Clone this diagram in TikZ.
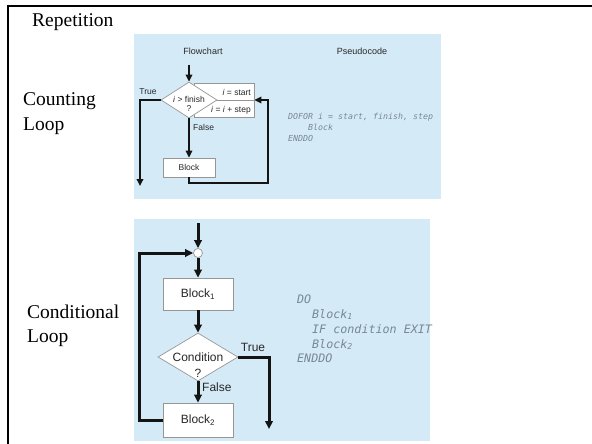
\documentclass[tikz,border=0pt]{standalone}
\usepackage{fontspec}
\setmainfont{Liberation Serif}
\newfontfamily\flowsans{Liberation Sans}
\newfontfamily\codemono{DejaVu Sans Mono}
\usetikzlibrary{arrows.meta,shapes.geometric}
\definecolor{panelblue}{RGB}{213,234,247}
\definecolor{boxgray}{RGB}{150,150,150}
\definecolor{inkdark}{RGB}{20,20,20}
\definecolor{labelgray}{RGB}{40,40,40}
\definecolor{codegray}{RGB}{120,135,152}
\begin{document}
\begin{tikzpicture}[x=1pt,y=-1pt,
  flowline/.style={draw=inkdark, line width=2.6pt},
  flowarrow/.style={flowline, -{Triangle[length=7pt,width=6.5pt]}},
  bigline/.style={draw=inkdark, line width=3pt},
  bigarrow/.style={bigline, -{Triangle[length=8pt,width=7.5pt]}},
  procbox/.style={draw=boxgray, fill=white, line width=0.7pt, inner sep=0pt, text=labelgray},
  decbox/.style={diamond, draw=boxgray, fill=white, line width=0.7pt, inner sep=0pt},
  smallfont/.style={font=\flowsans\fontsize{8.5}{10}\selectfont},
  bigfont/.style={font=\flowsans\fontsize{12}{14}\selectfont},
  smalltext/.style={smallfont, text=labelgray, inner sep=0pt},
  bigtext/.style={bigfont, text=labelgray, inner sep=0pt},
  headtext/.style={font=\flowsans\fontsize{9}{11}\selectfont, text=labelgray, inner sep=0pt},
  serifline/.style={font=\fontsize{19.5}{24}\selectfont, inner sep=0pt, anchor=base west},
  codesmall/.style={font=\codemono\itshape\fontsize{8.3}{10}\selectfont, text=codegray, inner sep=0pt, anchor=base west},
  codebig/.style={font=\codemono\itshape\fontsize{11.7}{14}\selectfont, text=codegray, inner sep=0pt, anchor=base west},
]
\useasboundingbox (0,0) rectangle (592,444);
% panels
\fill[panelblue] (134,34) rectangle (441,199);
\fill[panelblue] (134,219) rectangle (430,441);
% frame
\draw[line width=2pt] (8,444) -- (8,6) -- (592,6);

% left labels
\node[serifline] (title) at (32,27) {Repetition};
\node[serifline] (cnt1) at (23,106) {Counting};
\node[serifline] (cnt2) at (23,130) {Loop};
\node[serifline] (cond1) at (27,318) {Conditional};
\node[serifline] (cond2) at (27,342) {Loop};

% ---------- counting loop ----------
\node[headtext] (fchead) at (203,51) {Flowchart};
\node[headtext] (pchead) at (362,51) {Pseudocode};
\coordinate (in1) at (189,65);
\node[procbox, minimum width=60pt, minimum height=34pt] (initbox) at (224,100) {};
\draw[boxgray, line width=0.7pt] (initbox.west) -- (initbox.east);
\node[decbox, minimum width=56pt, minimum height=36pt] (dec1) at (189,100) {};
\node[smalltext] (dec1a) at (189,99) {\textit{i} > finish};
\node[smalltext] (dec1b) at (189,109) {?};
\node[smalltext, anchor=east] (initA) at (251,92) {\textit{i} = start};
\node[smalltext, anchor=east] (initB) at (251,110) {\textit{i} = \textit{i} + step};
\node[procbox, smallfont, minimum width=52pt, minimum height=19pt] (blk) at (189,167.5) {Block};

\draw[flowarrow] (in1) -- (dec1.north);
\draw[flowarrow] (dec1.south) -- (blk.north);
\coordinate (trueend1) at (140,186);
\draw[flowarrow] (dec1.west) -| (trueend1);
\coordinate (ret1) at (268,183);
\draw[flowarrow] (blk.south) |- (ret1) |- (initbox.east);
\node[smalltext] (true1) at (148,92) {True};
\node[smalltext, anchor=west] (false1) at (193,127) {False};

\node[codesmall] (pc1) at (288,119) {DOFOR i = start, finish, step};
\node[codesmall] (pc2) at (308,130) {Block};
\node[codesmall] (pc3) at (288,141) {ENDDO};

% ---------- conditional loop ----------
\coordinate (in2) at (198,223);
\node[circle, draw=boxgray, fill=white, line width=0.7pt, minimum size=9pt, inner sep=0pt] (junc) at (198,253) {};
\node[procbox, bigfont, minimum width=70pt, minimum height=32pt] (blk1) at (198,294) {Block\textsubscript{1}};
\node[decbox, minimum width=80pt, minimum height=48pt] (dec2) at (198,357) {};
\node[bigtext] (dec2a) at (198,357) {Condition};
\node[bigtext] (dec2b) at (198,373) {?};
\node[procbox, bigfont, minimum width=70pt, minimum height=34pt] (blk2) at (198,420) {Block\textsubscript{2}};

\draw[bigarrow] (in2) -- (junc.north);
\draw[bigarrow] (junc.south) -- (blk1.north);
\draw[bigarrow] (blk1.south) -- (dec2.north);
\draw[bigarrow] (dec2.south) -- (blk2.north);
\coordinate (trueend2) at (269,429);
\draw[bigarrow] (dec2.east) -| (trueend2);
\coordinate (loopcorner) at (139,420);
\draw[bigarrow] (blk2.west) -- (loopcorner) |- (junc.west);
\node[bigtext] (true2) at (253,347) {True};
\node[bigtext, anchor=west] (false2) at (202,387) {False};

\node[codebig] (pd1) at (297,303) {DO};
\node[codebig] (pd2) at (312,318) {Block\textsubscript{1}};
\node[codebig] (pd3) at (312,333) {IF condition EXIT};
\node[codebig] (pd4) at (312,348) {Block\textsubscript{2}};
\node[codebig] (pd5) at (297,362) {ENDDO};
\end{tikzpicture}
\end{document}
